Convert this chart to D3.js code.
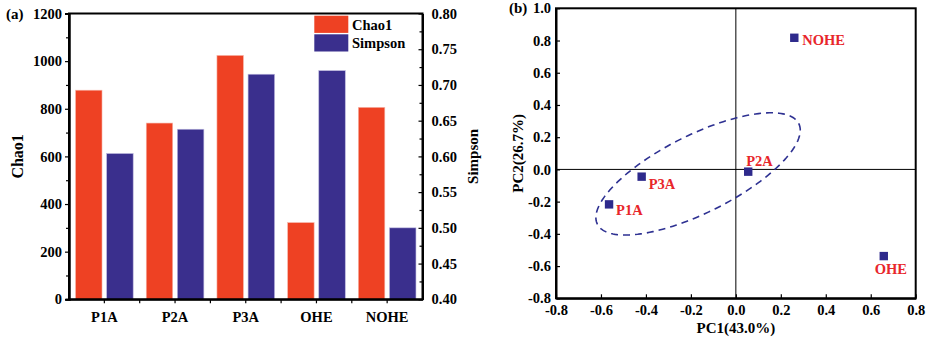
<!DOCTYPE html>
<html>
<head>
<meta charset="utf-8">
<script src="https://cdn.jsdelivr.net/npm/d3@7"></script>
<style>
  body { margin: 0; background: #fff; }
  svg text { font-family: "Liberation Serif", "Times New Roman", serif; font-weight: bold; }
</style>
</head>
<body>
<div id="chart"></div>
<script>
// Data for panel (a)
const sites = ["P1A", "P2A", "P3A", "OHE", "NOHE"];
const chao1 = [878, 740, 1024, 322, 806];
const simpson = [0.604, 0.638, 0.715, 0.72, 0.5];

// Data for panel (b) PCA
const pcaNames = ["NOHE", "P2A", "P3A", "P1A", "OHE"];
const pc1 = [0.26, 0.055, -0.419, -0.564, 0.658];
const pc2 = [0.817, -0.014, -0.045, -0.217, -0.538];
// ellipse: centre and two conjugate semi-diameters, in PC units
const ellipseCenter = [-0.168, -0.028];
const ellipseA = [0.448, 0.312];
const ellipseB = [0.077, -0.216];

const red = "#ee4123",
  navy = "#3a2f8d",
  labelRed = "#e8262b";

const svg = d3
  .select("#chart")
  .append("svg")
  .attr("width", 929)
  .attr("height", 343);

// ---------------- Panel (a) ----------------
const A = { left: 69, right: 422.5, top: 13.5, bottom: 299.3 };

const x0 = d3
  .scaleBand()
  .domain(sites)
  .range([A.left, A.right])
  .paddingInner(0.185)
  .paddingOuter(0.0925);

const x1 = d3
  .scaleBand()
  .domain(["Chao1", "Simpson"])
  .range([0, x0.bandwidth()])
  .paddingInner(0.15);

const yL = d3.scaleLinear().domain([0, 1200]).range([A.bottom, A.top]);
const yR = d3.scaleLinear().domain([0.4, 0.8]).range([A.bottom, A.top]);

const gA = svg.append("g");

// bars
gA.selectAll(".chao")
  .data(sites)
  .enter()
  .append("rect")
  .attr("x", (d) => x0(d) + x1("Chao1"))
  .attr("y", (d, i) => yL(chao1[i]))
  .attr("width", x1.bandwidth())
  .attr("height", (d, i) => yL(0) - yL(chao1[i]))
  .attr("fill", red)
  .attr("stroke", "#f7b7ab")
  .attr("stroke-width", 0.6);

gA.selectAll(".simp")
  .data(sites)
  .enter()
  .append("rect")
  .attr("x", (d) => x0(d) + x1("Simpson"))
  .attr("y", (d, i) => yR(simpson[i]))
  .attr("width", x1.bandwidth())
  .attr("height", (d, i) => yR(0.4) - yR(simpson[i]))
  .attr("fill", navy)
  .attr("stroke", "#b9b5dd")
  .attr("stroke-width", 0.6);

// left axis (ticks outside)
gA.append("g")
  .attr("transform", `translate(${A.left},0)`)
  .call(
    d3.axisLeft(yL)
      .tickValues(d3.range(0, 1201, 200))
      .tickSize(4)
      .tickPadding(3)
      .tickFormat(d3.format("d"))
  );
gA.append("g")
  .attr("transform", `translate(${A.left},0)`)
  .call(d3.axisLeft(yL).tickValues(d3.range(100, 1200, 200)).tickSize(3).tickFormat(""));

// right axis (ticks inside)
gA.append("g")
  .attr("transform", `translate(${A.right},0)`)
  .call(
    d3.axisRight(yR)
      .tickValues(d3.range(0.4, 0.8001, 0.05))
      .tickSizeInner(-4)
      .tickSizeOuter(0)
      .tickPadding(9)
      .tickFormat(d3.format(".2f"))
  );
gA.append("g")
  .attr("transform", `translate(${A.right},0)`)
  .call(
    d3.axisRight(yR)
      .tickValues(d3.range(0.425, 0.8, 0.05))
      .tickSizeInner(-3)
      .tickSizeOuter(0)
      .tickFormat("")
  );

// bottom axis: labels at centres, extra ticks at boundaries
gA.append("g")
  .attr("transform", `translate(0,${A.bottom})`)
  .call(d3.axisBottom(x0).tickSize(4).tickSizeOuter(0).tickPadding(8));
gA.append("g")
  .attr("transform", `translate(0,${A.bottom})`)
  .selectAll("line")
  .data(sites.slice(1))
  .enter()
  .append("line")
  .attr("x1", (d) => x0(d) - (x0.step() * x0.paddingInner()) / 2)
  .attr("x2", (d) => x0(d) - (x0.step() * x0.paddingInner()) / 2)
  .attr("y1", 0)
  .attr("y2", 4)
  .attr("stroke", "#000")
  .attr("stroke-width", 1.2);

// frame
gA.append("rect")
  .attr("x", A.left)
  .attr("y", A.top)
  .attr("width", A.right - A.left)
  .attr("height", A.bottom - A.top)
  .attr("fill", "none")
  .attr("stroke", "#000")
  .attr("stroke-width", 2);

// legend
const legend = gA.append("g");
[["Chao1", red], ["Simpson", navy]].forEach((s, i) => {
  legend
    .append("rect")
    .attr("x", 314.3)
    .attr("y", 15.7 + i * 18.6)
    .attr("width", 34)
    .attr("height", 17.2)
    .attr("fill", s[1]);
  legend
    .append("text")
    .attr("x", 352)
    .attr("y", 29.5 + i * 18.6)
    .style("font-size", "14.5px")
    .text(s[0]);
});

// titles
gA.append("text")
  .attr("x", 6)
  .attr("y", 18.5)
  .style("font-size", "15px")
  .text("(a)");

gA.append("text")
  .attr("transform", `translate(23,${(A.top + A.bottom) / 2}) rotate(-90)`)
  .attr("text-anchor", "middle")
  .style("font-size", "16px")
  .text("Chao1");

gA.append("text")
  .attr("transform", `translate(478,${(A.top + A.bottom) / 2}) rotate(-90)`)
  .attr("text-anchor", "middle")
  .style("font-size", "15px")
  .text("Simpson");

// ---------------- Panel (b) ----------------
const B = { left: 556, right: 915.7, top: 8.3, bottom: 298.3 };
const xb = d3.scaleLinear().domain([-0.8, 0.8]).range([B.left, B.right]);
const yb = d3.scaleLinear().domain([-0.8, 1.0]).range([B.bottom, B.top]);

const gB = svg.append("g");

// zero lines
gB.append("line")
  .attr("x1", xb(0))
  .attr("x2", xb(0))
  .attr("y1", B.top)
  .attr("y2", B.bottom)
  .attr("stroke", "#000")
  .attr("stroke-width", 1);
gB.append("line")
  .attr("x1", B.left)
  .attr("x2", B.right)
  .attr("y1", yb(0))
  .attr("y2", yb(0))
  .attr("stroke", "#000")
  .attr("stroke-width", 1);

// ellipse
const ellipsePts = d3.range(0, 2 * Math.PI + 0.001, Math.PI / 90).map((t) => [
  ellipseCenter[0] + ellipseA[0] * Math.cos(t) + ellipseB[0] * Math.sin(t),
  ellipseCenter[1] + ellipseA[1] * Math.cos(t) + ellipseB[1] * Math.sin(t),
]);
gB.append("path")
  .datum(ellipsePts)
  .attr("d", d3.line().x((d) => xb(d[0])).y((d) => yb(d[1])))
  .attr("fill", "none")
  .attr("stroke", "#2e3192")
  .attr("stroke-width", 1.6)
  .attr("stroke-dasharray", "7,5");

// axes (ticks inside)
const fmt = (d) => d3.format(".1f")(d).replace("−", "-");
gB.append("g")
  .attr("transform", `translate(0,${B.bottom})`)
  .call(
    d3.axisBottom(xb)
      .tickValues(d3.range(-0.8, 0.8001, 0.2))
      .tickSizeInner(-4)
      .tickSizeOuter(0)
      .tickPadding(6)
      .tickFormat(fmt)
  );
gB.append("g")
  .attr("transform", `translate(${B.left},0)`)
  .call(
    d3.axisLeft(yb)
      .tickValues(d3.range(-0.8, 1.0001, 0.2))
      .tickSizeInner(-4)
      .tickSizeOuter(0)
      .tickPadding(5)
      .tickFormat(fmt)
  );

gB.append("rect")
  .attr("x", B.left)
  .attr("y", B.top)
  .attr("width", B.right - B.left)
  .attr("height", B.bottom - B.top)
  .attr("fill", "none")
  .attr("stroke", "#000")
  .attr("stroke-width", 2);

// points
gB.selectAll(".pt")
  .data(pcaNames)
  .enter()
  .append("rect")
  .attr("x", (d, i) => xb(pc1[i]) - 4.2)
  .attr("y", (d, i) => yb(pc2[i]) - 4.2)
  .attr("width", 8.4)
  .attr("height", 8.4)
  .attr("fill", "#2e2a8c");

// point labels: offsets relative to the marker
const labelOffset = {
  NOHE: [8, 7, "start"],
  P2A: [-2, -6, "start"],
  P3A: [7, 12, "start"],
  P1A: [7, 11, "start"],
  OHE: [7, 18, "middle"],
};
gB.selectAll(".lbl")
  .data(pcaNames)
  .enter()
  .append("text")
  .attr("x", (d, i) => xb(pc1[i]) + labelOffset[d][0])
  .attr("y", (d, i) => yb(pc2[i]) + labelOffset[d][1])
  .attr("text-anchor", (d) => labelOffset[d][2])
  .attr("fill", labelRed)
  .style("font-size", "14.5px")
  .text((d) => d);

gB.append("text")
  .attr("x", 509)
  .attr("y", 13)
  .style("font-size", "15px")
  .text("(b)");

gB.append("text")
  .attr("x", (B.left + B.right) / 2)
  .attr("y", 333)
  .attr("text-anchor", "middle")
  .style("font-size", "15px")
  .text("PC1(43.0%)");

gB.append("text")
  .attr("transform", `translate(523,${(B.top + B.bottom) / 2}) rotate(-90)`)
  .attr("text-anchor", "middle")
  .style("font-size", "15px")
  .text("PC2(26.7%)");

// tick styling
svg.selectAll(".tick text").style("font-size", "14.5px").attr("fill", "#000");
svg.selectAll(".tick line").attr("stroke", "#000").attr("stroke-width", 1.2);
svg.selectAll(".domain").attr("stroke", "#000").attr("stroke-width", 2);
</script>
</body>
</html>
